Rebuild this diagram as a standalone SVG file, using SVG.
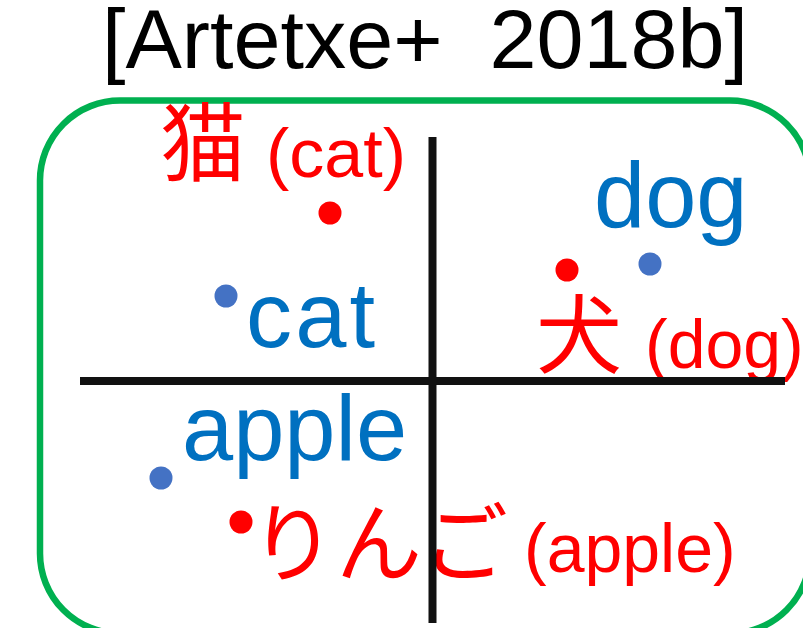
<svg xmlns="http://www.w3.org/2000/svg" width="803" height="628" viewBox="0 0 803 628">
  <style>
    .title { font-family: "Liberation Sans", Arial, sans-serif; font-size: 83px; fill: #000; }
    .en { font-family: "Liberation Sans", Arial, sans-serif; font-size: 92px; fill: #0070C0; }
    .jp { font-family: "Noto Sans CJK JP", "Noto Sans CJK SC", sans-serif; font-size: 86px; fill: #FF0000; }
    .gloss { font-family: "Liberation Sans", Arial, sans-serif; font-size: 68px; fill: #FF0000; }
    .dot-en { fill: #4472C4; }
    .dot-jp { fill: #FF0000; }
    .axis { stroke: #111; stroke-width: 8; fill: none; }
    .frame { stroke: #00B050; stroke-width: 6.5; fill: none; }
  </style>
  <rect width="803" height="628" fill="#fff"/>
  <g id="title">
    <text class="title" x="102" y="68" textLength="646" lengthAdjust="spacingAndGlyphs" xml:space="preserve">[Artetxe+  2018b]</text>
  </g>
  <g id="frame">
    <rect class="frame" x="40" y="100.5" width="770" height="533" rx="80" ry="80"/>
  </g>
  <g id="node-neko">
    <text class="jp" x="160" y="175">猫</text>
    <text class="gloss" x="266" y="177" textLength="140" lengthAdjust="spacingAndGlyphs">(cat)</text>
    <circle class="dot-jp" cx="330" cy="213" r="11.5"/>
  </g>
  <g id="node-cat">
    <circle class="dot-en" cx="226" cy="296" r="11.5"/>
    <text class="en" x="246" y="347" textLength="129">cat</text>
  </g>
  <g id="node-dog">
    <text class="en" x="594" y="227">dog</text>
    <circle class="dot-en" cx="650" cy="264" r="11.5"/>
  </g>
  <g id="node-inu">
    <circle class="dot-jp" cx="567" cy="270" r="11.5"/>
    <text class="jp" x="536" y="367">犬</text>
    <text class="gloss" x="645" y="368">(dog)</text>
  </g>
  <g id="node-apple">
    <circle class="dot-en" cx="161" cy="478" r="11.5"/>
    <text class="en" x="182" y="460">apple</text>
  </g>
  <g id="node-ringo">
    <circle class="dot-jp" cx="241" cy="522" r="11.5"/>
    <text class="jp" x="250" y="575">りんご</text>
    <text class="gloss" x="524" y="572">(apple)</text>
  </g>
  <g id="connectors">
    <line class="axis" x1="432.5" y1="137" x2="432.5" y2="623"/>
    <line class="axis" x1="80" y1="381" x2="785" y2="381"/>
  </g>
</svg>
